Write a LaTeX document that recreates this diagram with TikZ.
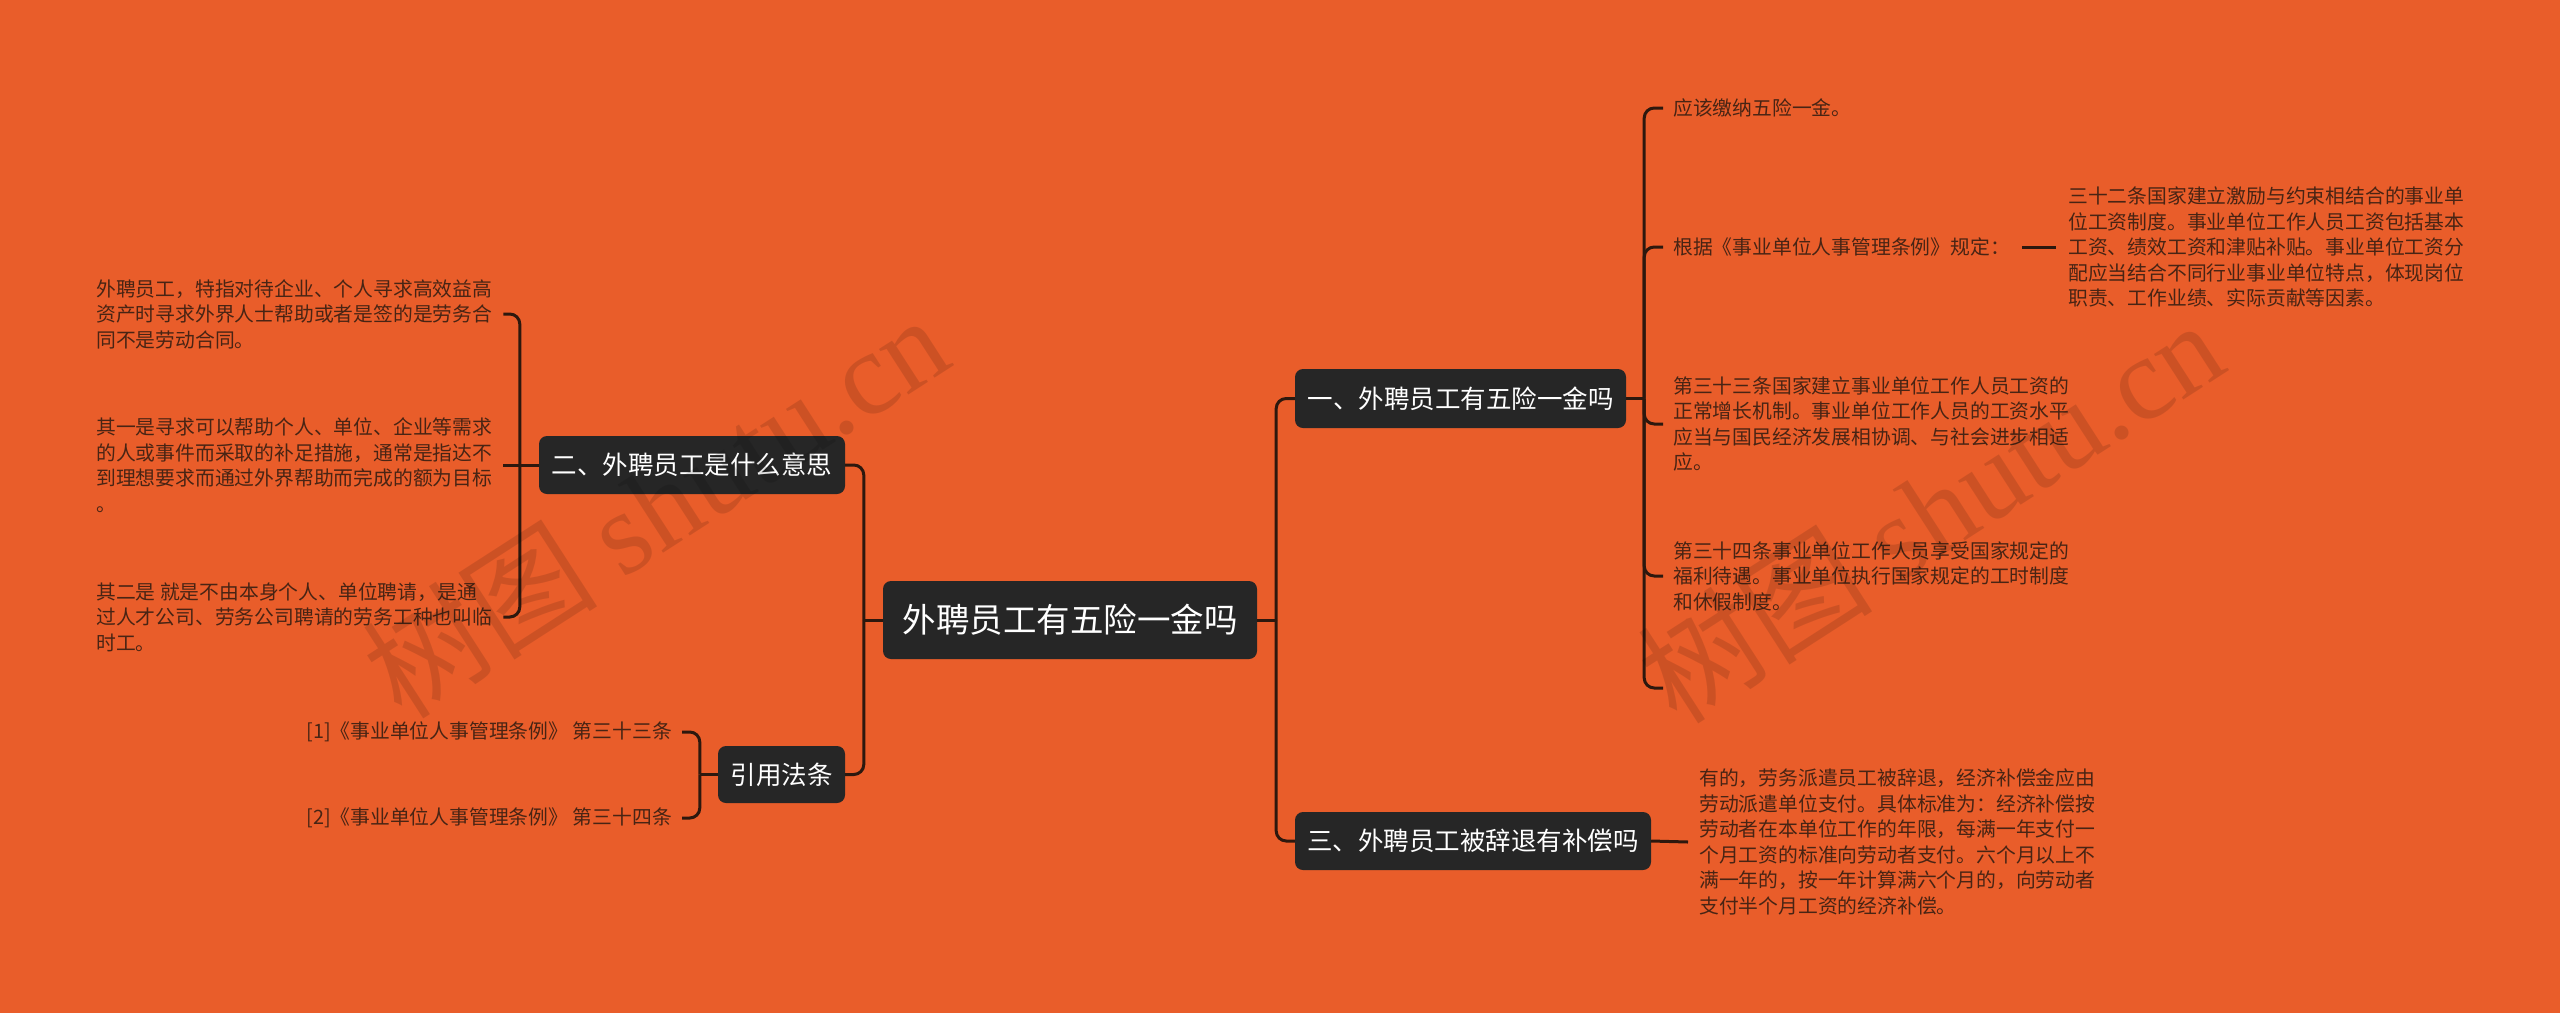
\documentclass[tikz,border=0pt]{standalone}
\usepackage{fontspec}
\setmainfont{Noto Sans CJK SC}
\newfontfamily\wmlatin{Liberation Serif}
\usetikzlibrary{calc}
\definecolor{bg}{RGB}{233,93,42}
\definecolor{boxc}{RGB}{38,38,38}
\definecolor{linec}{RGB}{45,24,14}
\definecolor{leafc}{RGB}{72,36,20}
\begin{document}
\begin{tikzpicture}[x=1pt,y=-1pt,
  topic/.style={rectangle, rounded corners=8pt, fill=boxc, text=white, inner sep=0pt,
    font=\fontsize{25.5}{30}\selectfont, minimum height=58pt},
  leaf/.style={align=left, inner sep=0pt, text=leafc, font=\fontsize{19.8}{25.5}\selectfont},
  conn/.style={draw=linec, line width=3pt, rounded corners=10pt},
  wmark/.style={rotate=32.8, text=black, text opacity=0.12, inner sep=0pt,
    font=\fontsize{118}{120}\selectfont}
]
\useasboundingbox (0,0) rectangle (2560,1013);
\fill[bg] (0,0) rectangle (2560,1013);

% topics
\node[topic, minimum width=374pt, minimum height=78pt, font=\fontsize{33.5}{40}\selectfont] (c) at (1070,620) {外聘员工有五险一金吗};
\node[topic, minimum width=331pt, minimum height=59pt] (a1) at (1460.5,398.5) {一、外聘员工有五险一金吗};
\node[topic, minimum width=306pt] (a2) at (692,465) {二、外聘员工是什么意思};
\node[topic, minimum width=356pt] (a3) at (1473,841) {三、外聘员工被辞退有补偿吗};
\node[topic, minimum width=127pt, minimum height=57pt] (a4) at (781.5,774.5) {引用法条};

% left leaves
\node[leaf, anchor=west] (l1) at (96,314) {外聘员工，特指对待企业、个人寻求高效益高\\资产时寻求外界人士帮助或者是签的是劳务合\\同不是劳动合同。};
\node[leaf, anchor=west] (l2) at (96,465) {其一是寻求可以帮助个人、单位、企业等需求\\的人或事件而采取的补足措施，通常是指达不\\到理想要求而通过外界帮助而完成的额为目标\\。};
\node[leaf, anchor=west] (l3) at (96,617) {其二是 就是不由本身个人、单位聘请，是通\\过人才公司、劳务公司聘请的劳务工种也叫临\\时工。};
\node[leaf, anchor=east] (ci1) at (672,732) {[1]《事业单位人事管理条例》 第三十三条};
\node[leaf, anchor=east] (ci2) at (672,818) {[2]《事业单位人事管理条例》 第三十四条};

% right leaves
\node[leaf, anchor=west] (r1) at (1673,108) {应该缴纳五险一金。};
\node[leaf, anchor=west] (r2) at (1673,247) {根据《事业单位人事管理条例》规定：};
\node[leaf, anchor=west] (r2a) at (2068,247) {三十二条国家建立激励与约束相结合的事业单\\位工资制度。事业单位工作人员工资包括基本\\工资、绩效工资和津贴补贴。事业单位工资分\\配应当结合不同行业事业单位特点，体现岗位\\职责、工作业绩、实际贡献等因素。};
\node[leaf, anchor=west] (r3) at (1673,424) {第三十三条国家建立事业单位工作人员工资的\\正常增长机制。事业单位工作人员的工资水平\\应当与国民经济发展相协调、与社会进步相适\\应。};
\node[leaf, anchor=west] (r4) at (1673,576) {第三十四条事业单位工作人员享受国家规定的\\福利待遇。事业单位执行国家规定的工时制度\\和休假制度。};
\coordinate (r5) at (1663,688);
\node[leaf, anchor=west] (r6) at (1699,842) {有的，劳务派遣员工被辞退，经济补偿金应由\\劳动派遣单位支付。具体标准为：经济补偿按\\劳动者在本单位工作的年限，每满一年支付一\\个月工资的标准向劳动者支付。六个月以上不\\满一年的，按一年计算满六个月的，向劳动者\\支付半个月工资的经济补偿。};

% connectors: centre
\draw[conn] (c.west) -- ++(-19,0) coordinate (jl);
\draw[conn] (jl) |- (a2.east);
\draw[conn] (jl) |- (a4.east);
\draw[conn] (c.east) -- ++(19,0) coordinate (jr);
\draw[conn] (jr) |- (a1.west);
\draw[conn] (jr) |- (a3.west);

% connectors: topic 2
\draw[conn] (a2.west) -- ++(-19,0) coordinate (j2);
\draw[conn] (j2) |- ($(l1.east)+(11,0)$);
\draw[conn] (j2) -- ($(l2.east)+(11,0)$);
\draw[conn] (j2) |- ($(l3.east)+(11,0)$);

% connectors: citations
\draw[conn] (a4.west) -- ++(-18,0) coordinate (j4);
\draw[conn] (j4) |- ($(ci1.east)+(10,0)$);
\draw[conn] (j4) |- ($(ci2.east)+(10,0)$);

% connectors: topic 1
\draw[conn] (a1.east) -- ++(18,0) coordinate (j1);
\draw[conn] (j1) |- ($(r1.west)+(-10,0)$);
\draw[conn] (j1) |- ($(r2.west)+(-10,0)$);
\draw[conn] (j1) |- ($(r3.west)+(-10,0)$);
\draw[conn] (j1) |- ($(r4.west)+(-10,0)$);
\draw[conn] (j1) |- (r5);
\draw[conn] ($(r2.east)+(12,0)$) -- ($(r2a.west)+(-12,0)$);

% connectors: topic 3
\draw[conn] (a3.east) -- ($(r6.west)+(-11,0)$);

% watermarks
\node[wmark] (wm1) at (655,505) {树图 {\wmlatin shutu.cn}};
\node[wmark] (wm2) at (1930,510) {树图 {\wmlatin shutu.cn}};
\end{tikzpicture}
\end{document}
